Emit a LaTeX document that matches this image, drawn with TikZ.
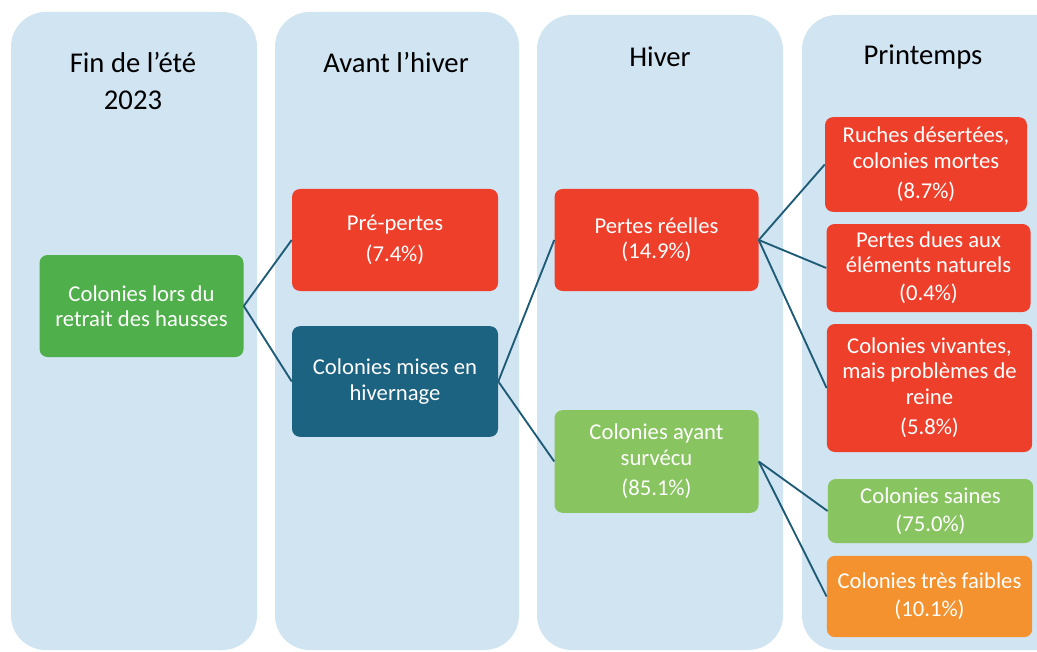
\documentclass[tikz,border=0pt]{standalone}
\usepackage{fontspec}
\setmainfont{Carlito}
\usetikzlibrary{positioning}
\definecolor{panelblue}{HTML}{D1E4F2}
\definecolor{lossred}{HTML}{EE3F2B}
\definecolor{startgreen}{HTML}{4FAF4A}
\definecolor{winterblue}{HTML}{1C6281}
\definecolor{alivegreen}{HTML}{88C45F}
\definecolor{weakorange}{HTML}{F3922F}
\definecolor{linkblue}{HTML}{1D5B76}

\begin{document}
\begin{tikzpicture}[
    x=0.75pt, y=-0.75pt,
    panel/.style={fill=panelblue, rounded corners=26pt},
    head/.style={font=\fontsize{21.5}{28}\selectfont, align=center, text=black},
    box/.style={rectangle, rounded corners=6pt, inner sep=0pt, text=white, align=center, font=\fontsize{17}{19}\selectfont, minimum width=153pt},
    link/.style={draw=linkblue, line width=1.4pt}
]
    \clip (0,0) rectangle (1037,652);

    % Columns
    \fill[panel] (11,12) rectangle (257,650);
    \fill[panel] (275,12) rectangle (519,650);
    \fill[panel] (537,15) rectangle (783,650);
    \fill[panel] (802,15) rectangle (1075,650);

    \node[head] (hfin) at (133,81) {Fin de l’été\\2023};
    \node[head] (havant) at (396,63) {Avant l’hiver};
    \node[head] (hhiver) at (660,57) {Hiver};
    \node[head] (hprint) at (923,57) {Printemps};

    % Boxes
    \node[box, fill=startgreen, minimum height=76.5pt] (start) at (141.5,306) {Colonies lors du\\retrait des hausses};
    \node[box, fill=lossred, minimum width=154.5pt, minimum height=76.5pt] (pre) at (395,240) {Pré-pertes\\[4pt](7.4\%)};
    \node[box, fill=winterblue, minimum width=154.5pt, minimum height=83pt] (winter) at (395,381.5) {Colonies mises en\\hivernage};
    \node[box, fill=lossred, minimum height=76.5pt] (real) at (656.5,240) {Pertes réelles\\(14.9\%)};
    \node[box, fill=alivegreen, minimum height=77pt] (alive) at (656.5,461.5) {Colonies ayant\\survécu\\[4pt](85.1\%)};

    \node[box, fill=lossred, minimum width=151.5pt, minimum height=71pt] (dead) at (926,164.5) {Ruches désertées,\\colonies mortes\\[4pt](8.7\%)};
    \node[box, fill=lossred, minimum height=66pt] (nature) at (928.5,268) {Pertes dues aux\\éléments naturels\\[2pt](0.4\%)};
    \node[box, fill=lossred, minimum width=154pt, minimum height=96pt] (queen) at (929.5,388) {Colonies vivantes,\\mais problèmes de\\reine\\[4pt](5.8\%)};
    \node[box, fill=alivegreen, minimum width=154pt, minimum height=48pt] (healthy) at (930.5,511) {Colonies saines\\[2pt](75.0\%)};
    \node[box, fill=weakorange, minimum width=154pt, minimum height=61pt] (weak) at (929.5,596.5) {Colonies très faibles\\[2pt](10.1\%)};

    % Links
    \draw[link] (start.east) -- (pre.west);
    \draw[link] (start.east) -- (winter.west);
    \draw[link] (winter.east) -- (real.west);
    \draw[link] (winter.east) -- (alive.west);
    \draw[link] (real.east) -- (dead.west);
    \draw[link] (real.east) -- (nature.west);
    \draw[link] (real.east) -- (queen.west);
    \draw[link] (alive.east) -- (healthy.west);
    \draw[link] (alive.east) -- (weak.west);
\end{tikzpicture}
\end{document}
